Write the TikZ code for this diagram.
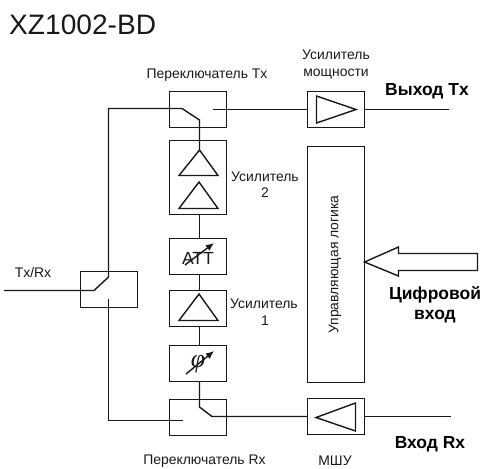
\documentclass[tikz,border=0pt]{standalone}
\usepackage{fontspec}
\setmainfont{Liberation Sans}
\newfontfamily\greekfont{Liberation Serif}
\usetikzlibrary{positioning,arrows.meta,calc}
\begin{document}
\begin{tikzpicture}[
    x=0.03cm,y=-0.03cm,
    line/.style={line width=1.2pt,black!90},
    blockbox/.style={draw,line width=1.2pt,black!90,minimum width=1.71cm,minimum height=1.08cm,inner sep=0pt,outer sep=0pt},
    tri/.style={line width=1.2pt,black!90,line join=miter},
    lbl/.style={font=\fontsize{11.9}{14.5}\selectfont,inner sep=0pt,align=center,text=black!90},
    head/.style={font=\fontsize{14.9}{17}\selectfont\bfseries,inner sep=0pt,align=center}
]
\useasboundingbox (0,0) rectangle (483,468);

\node[font=\fontsize{24}{28}\selectfont,inner sep=0pt,anchor=west,text=black!90] (title) at (9,25) {XZ1002-BD};

% switches and blocks
\node[blockbox] (swtx) at (198,109.5) {};
\node[blockbox,minimum height=2.22cm] (amptwo) at (198,177.5) {};
\node[blockbox] (att) at (198,256.5) {};
\node[blockbox] (ampone) at (198,308.5) {};
\node[blockbox] (phase) at (198,363.5) {};
\node[blockbox] (swrx) at (198,417.5) {};
\node[blockbox] (swtr) at (109,289.5) {};
\node[blockbox] (pa) at (336,109.5) {};
\node[blockbox] (lna) at (336,416.5) {};
\node[blockbox,minimum height=7.08cm] (logic) at (336,264.5) {};

% amplifiers
\coordinate (tripa) at (356,109.5);
\draw[tri] (316.5,96) -- (316.5,123) -- (tripa) -- cycle;
\coordinate (trilna) at (316,417.5);
\draw[tri] (355.5,403) -- (355.5,431) -- (trilna) -- cycle;
\coordinate (tritop) at (199.5,150);
\draw[tri] (tritop) -- (179,175.5) -- (218,175.5) -- cycle;
\draw[tri] (199,182) -- (179,208.5) -- (218,208.5) -- cycle;
\draw[tri] (199,294) -- (179,320.5) -- (218,320.5) -- cycle;

% att
\node[font=\fontsize{15}{16}\selectfont,inner sep=0pt,text=black!90] (atttext) at (198,258) {ATT};
\draw[line,-{Latex[length=7pt,width=6pt]}] (185,265) -- (214,243);

% phase shifter
\node[font=\fontsize{22}{24}\selectfont\greekfont\itshape,inner sep=0pt,text=black!90] (phi) at (198,364) {φ};
\draw[line,-{Latex[length=7pt,width=6pt]}] (186,374) -- (214,351);

% connectors
\coordinate (txpole) at (182,108.5);
\coordinate (txhinge) at (199.5,120);
\coordinate (txcontact) at (213,109.5);
\coordinate (rxhinge) at (199.5,407);
\coordinate (rxpole) at (212,416.5);
\coordinate (rxcontact) at (183,420.5);
\coordinate (trpole) at (94,290.5);
\coordinate (trhinge) at (108.5,277);
\coordinate (trcontact) at (108.5,299);
\coordinate (trin) at (4,290.5);
\coordinate (txout) at (449,109.5);
\coordinate (rxin) at (451,416.5);

\draw[line] (trin) -- (trpole) -- (trhinge) -- (108.5,108.5) -- (txpole) -- (txhinge) -- (tritop);
\draw[line] (trcontact) -- (108.5,420.5) -- (rxcontact);
\draw[line] (txcontact) -- (pa.west);
\draw[line] (pa.east) -- (txout);
\draw[line] ($(amptwo.south)+(1.5,0)$) -- ($(att.north)+(1.5,0)$);
\draw[line] ($(att.south)+(1.5,0)$) -- ($(ampone.north)+(1.5,0)$);
\draw[line] ($(ampone.south)+(1.5,0)$) -- ($(phase.north)+(1.5,0)$);
\draw[line] ($(phase.south)+(1.5,0)$) -- (rxhinge) -- (rxpole) -- (lna.west |- rxpole) ;
\draw[line] (lna.east |- rxin) -- (rxin);

% data input arrow
\draw[tri] (logic.east |- 0,262) coordinate (arrowtip) -- (398.5,247) -- (398.5,253.5) -- (477.5,253.5) -- (477.5,270.5) -- (398.5,270.5) -- (398.5,276) -- cycle;

% labels
\node[lbl] (swtxlbl) at (207,75) {Переключатель Tx};
\node[lbl] (palbl) at (336,64.5) {Усилитель\\мощности};
\node[head] (txlbl) at (427,91) {Выход Tx};
\node[lbl,anchor=west] (amptwolbl) at (231,177) {Усилитель};
\node[lbl] at (265,193) {2};
\node[lbl,anchor=west] (amponelbl) at (230,304) {Усилитель};
\node[lbl] at (265,321) {1};
\node[lbl,rotate=90] (logiclbl) at (335,264.5) {Управляющая логика};
\node[lbl] (trlbl) at (33,273) {Tx/Rx};
\node[head] (digitallbl) at (435,305) {Цифровой\\вход};
\node[head] (rxlbl) at (430,444) {Вход Rx};
\node[lbl] (swrxlbl) at (204.5,461) {Переключатель Rx};
\node[lbl] (lnalbl) at (335,461) {МШУ};
\end{tikzpicture}
\end{document}
